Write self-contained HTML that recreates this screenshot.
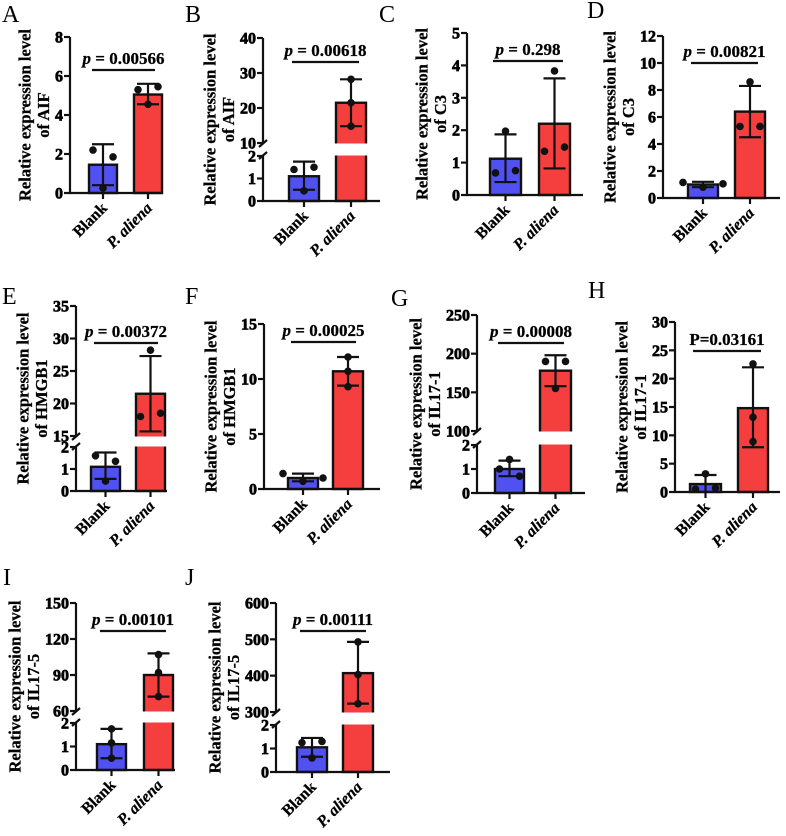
<!DOCTYPE html>
<html><head><meta charset="utf-8"><style>
html,body{margin:0;padding:0;background:#fff;}
svg{display:block;font-family:"Liberation Serif",serif;}
</style></head><body>
<svg id="fig" width="786" height="836" viewBox="0 0 786 836" xmlns="http://www.w3.org/2000/svg"></svg>
<script>
// ---- data ----
const groups = ['Blank', 'P. aliena'];
const meansA = [1.45, 5.05], lowA = [0.4, 4.55], highA = [2.5, 5.6], ptsBlankA = [2.2, 1.85, 0.25], ptsAlienaA = [5.3, 5.45, 4.55];
const meansB = [1.1, 21.5], lowB = [0.5, 14.8], highB = [1.75, 28.2], ptsBlankB = [1.4, 1.5, 0.45], ptsAlienaB = [28.2, 21.5, 14.8];
const meansC = [1.12, 2.2], lowC = [0.4, 0.82], highC = [1.87, 3.6], ptsBlankC = [1.97, 0.68, 0.75], ptsAlienaC = [3.83, 1.35, 1.48];
const meansD = [1.0, 6.4], lowD = [0.8, 4.5], highD = [1.2, 8.3], ptsBlankD = [1.15, 0.8, 1.05], ptsAlienaD = [8.6, 5.3, 5.3];
const meansE = [1.1, 21.5], lowE = [0.55, 15.7], highE = [1.75, 27.3], ptsBlankE = [1.6, 1.35, 0.45], ptsAlienaE = [28.2, 18, 18.5];
const meansF = [1.0, 10.7], lowF = [0.7, 9.4], highF = [1.4, 12], ptsBlankF = [1.4, 0.7, 1.0], ptsAlienaF = [12, 10.7, 9.3];
const meansG = [1.0, 178], lowG = [0.7, 158], highG = [1.35, 198], ptsBlankG = [1.4, 1.0, 0.7], ptsAlienaG = [190, 190, 155];
const meansH = [1.4, 14.8], lowH = [0, 7.9], highH = [3.0, 22], ptsBlankH = [3.2, 0.5, 0.7], ptsAlienaH = [22.6, 13.2, 8.9];
const meansI = [1.1, 90], lowI = [0.5, 72], highI = [1.75, 108], ptsBlankI = [1.75, 1.15, 0.5], ptsAlienaI = [107, 92, 72];
const meansJ = [1.05, 407], lowJ = [0.65, 323], highJ = [1.45, 493], ptsBlankJ = [1.25, 1.3, 0.6], ptsAlienaJ = [493, 403, 323];
const ticksA = [0, 2, 4, 6, 8];
const ticksBotB = [0, 1, 2], ticksTopB = [10, 20, 30, 40];
const ticksC = [0, 1, 2, 3, 4, 5];
const ticksD = [0, 2, 4, 6, 8, 10, 12];
const ticksBotE = [0, 1, 2], ticksTopE = [15, 20, 25, 30, 35];
const ticksF = [0, 5, 10, 15];
const ticksBotG = [0, 1, 2], ticksTopG = [100, 150, 200, 250];
const ticksH = [0, 5, 10, 15, 20, 25, 30];
const ticksBotI = [0, 1, 2], ticksTopI = [60, 90, 120, 150];
const ticksBotJ = [0, 1, 2], ticksTopJ = [300, 400, 500, 600];
const pValues = ['0.00566', '0.00618', '0.298', '0.00821', '0.00372', '0.00025', '0.00008', '0.03161', '0.00101', '0.00111'];
const genes = ['AIF', 'AIF', 'C3', 'C3', 'HMGB1', 'HMGB1', 'IL17-1', 'IL17-1', 'IL17-5', 'IL17-5'];

// ---- layout ----
const panels = [
 {L:'A',lx:2,ly:22,ax:70,axEnd:163,y0:193,b:[89,117],r:[134,162],lin:{max:8,yMax:37},ticks:ticksA,m:meansA,lo:lowA,hi:highA,pb:ptsBlankA,pa:ptsAlienaA,pl:70},
 {L:'B',lx:185,ly:22,ax:263,axEnd:380,y0:201,b:[289,319],r:[336,366],brk:{bMax:2,yB:156,tMin:10,yT:143,tMax:40,yTop:38},tb:ticksBotB,tt:ticksTopB,m:meansB,lo:lowB,hi:highB,pb:ptsBlankB,pa:ptsAlienaB,pl:62},
 {L:'C',lx:379,ly:22,ax:467,axEnd:583,y0:195,b:[490,521],r:[539,570],lin:{max:5,yMax:33},ticks:ticksC,m:meansC,lo:lowC,hi:highC,pb:ptsBlankC,pa:ptsAlienaC,pl:61},
 {L:'D',lx:587,ly:18,ax:663,axEnd:780,y0:198,b:[688,718],r:[735,765],lin:{max:12,yMax:36},ticks:ticksD,m:meansD,lo:lowD,hi:highD,pb:ptsBlankD,pa:ptsAlienaD,pl:63},
 {L:'E',lx:2,ly:304,ax:76,axEnd:167,y0:491,b:[91,120],r:[136,165],brk:{bMax:2,yB:447,tMin:15,yT:436,tMax:35,yTop:306},tb:ticksBotE,tt:ticksTopE,m:meansE,lo:lowE,hi:highE,pb:ptsBlankE,pa:ptsAlienaE,pl:343},
 {L:'F',lx:185,ly:304,ax:264,axEnd:380,y0:489,b:[288,318],r:[333,363],lin:{max:15,yMax:324},ticks:ticksF,m:meansF,lo:lowF,hi:highF,pb:ptsBlankF,pa:ptsAlienaF,pl:342},
 {L:'G',lx:391,ly:306,ax:477,axEnd:585,y0:493,b:[495,524],r:[540,571],brk:{bMax:2,yB:445,tMin:100,yT:431,tMax:250,yTop:315},tb:ticksBotG,tt:ticksTopG,m:meansG,lo:lowG,hi:highG,pb:ptsBlankG,pa:ptsAlienaG,pl:343},
 {L:'H',lx:588,ly:298,ax:675,axEnd:780,y0:492,b:[690,721],r:[738,768],lin:{max:30,yMax:322},ticks:ticksH,m:meansH,lo:lowH,hi:highH,pb:ptsBlankH,pa:ptsAlienaH,pl:351,plain:true},
 {L:'I',lx:3,ly:585,ax:76,axEnd:175,y0:770,b:[97,126],r:[144,173],brk:{bMax:2,yB:723,tMin:60,yT:711,tMax:150,yTop:603},tb:ticksBotI,tt:ticksTopI,m:meansI,lo:lowI,hi:highI,pb:ptsBlankI,pa:ptsAlienaI,pl:631},
 {L:'J',lx:185,ly:585,ax:276,axEnd:390,y0:772,b:[297,327],r:[343,373],brk:{bMax:2,yB:725,tMin:300,yT:712,tMax:600,yTop:603},tb:ticksBotJ,tt:ticksTopJ,m:meansJ,lo:lowJ,hi:highJ,pb:ptsBlankJ,pa:ptsAlienaJ,pl:631}
];
const NS = 'http://www.w3.org/2000/svg';
const svg = document.getElementById('fig');
function mk(tag, attrs, parent, txt) {
  const e = document.createElementNS(NS, tag);
  for (const k in attrs) e.setAttribute(k, attrs[k]);
  if (txt !== undefined) e.textContent = txt;
  parent.appendChild(e);
  return e;
}
const BLUE = '#5151f2', RED = '#f53f3f';

panels.forEach((p, i) => {
  const g = mk('g', {}, svg);
  
  
  const y = p.brk ? (v => {
      const k = p.brk;
      if (v <= k.bMax) return p.y0 + (k.yB - p.y0) * v / k.bMax;
      if (v >= k.tMin) return k.yT + (k.yTop - k.yT) * (v - k.tMin) / (k.tMax - k.tMin);
      return (k.yB + k.yT) / 2;
    }) : (v => p.y0 + (p.lin.yMax - p.y0) * v / p.lin.max);
  const topY = p.brk ? p.brk.yTop : p.lin.yMax;

  const lt = mk('text', {x:p.lx, y:p.ly, 'font-size':24}, g, p.L);
  
  

  const bars = [p.b, p.r], cols = [BLUE, RED];
  bars.forEach((bx, j) => {
    const yv = y(p.m[j]);
    const rc = mk('rect', {x:bx[0], y:yv, width:bx[1]-bx[0], height:p.y0-yv, fill:cols[j], stroke:'#111', 'stroke-width':2.4}, g);
    
    
    if (p.brk && p.m[j] > p.brk.bMax) {
      const gp = mk('rect', {x:bx[0]-2, y:p.brk.yT+0.5, width:bx[1]-bx[0]+4, height:p.brk.yB-p.brk.yT-1, fill:'#fff'}, g);
      
      
    }
  });
  bars.forEach((bx, j) => {
    const cx = (bx[0] + bx[1]) / 2;
    const eg = mk('g', {stroke:'#111', 'stroke-width':2.2}, g);
    
    
    mk('line', {x1:cx, x2:cx, y1:y(p.lo[j]), y2:y(p.hi[j])}, eg);
    mk('line', {x1:cx-11, x2:cx+11, y1:y(p.hi[j]), y2:y(p.hi[j])}, eg);
    if (p.lo[j] > 0) mk('line', {x1:cx-11, x2:cx+11, y1:y(p.lo[j]), y2:y(p.lo[j])}, eg);
    const pts = j ? p.pa : p.pb;
    const ys = pts.map(y);
    pts.forEach((v, k) => {
      let off = 0;
      const idx = ys.map((yy,q)=>q).filter(q => Math.abs(ys[q]-ys[k]) < 9);
      if (idx.length > 1) off = (idx.indexOf(k) - (idx.length-1)/2) * 20;
      const c = mk('circle', {cx:cx+off, cy:ys[k], r:3.8, fill:'#111'}, g);
      
      
    });
  });

  const ag = mk('g', {stroke:'#111', 'stroke-width':2.2, fill:'none'}, g);
  
  
  if (p.brk) {
    mk('line', {x1:p.ax, x2:p.ax, y1:p.y0+1, y2:p.brk.yB}, ag);
    mk('line', {x1:p.ax, x2:p.ax, y1:p.brk.yT, y2:topY}, ag);
    mk('line', {x1:p.ax-4, x2:p.ax+4, y1:p.brk.yB+3, y2:p.brk.yB-4}, ag);
    mk('line', {x1:p.ax-4, x2:p.ax+4, y1:p.brk.yT+4, y2:p.brk.yT-3}, ag);
  } else {
    mk('line', {x1:p.ax, x2:p.ax, y1:p.y0+1, y2:topY}, ag);
  }
  mk('line', {x1:p.ax-1, x2:p.axEnd, y1:p.y0, y2:p.y0}, ag);
  const allTicks = p.brk ? p.tb.concat(p.tt) : p.ticks;
  let maxW = 0;
  allTicks.forEach(t => {
    const ty = y(t);
    mk('line', {x1:p.ax-6, x2:p.ax, y1:ty, y2:ty}, ag);
    const tl = mk('text', {x:p.ax-7, y:ty+5.5, 'text-anchor':'end', 'font-size':16, 'font-weight':'bold', fill:'#000', stroke:'#000', 'stroke-width':0.7, 'paint-order':'stroke'}, g, String(t));
    
    
    maxW = Math.max(maxW, tl.getComputedTextLength());
  });
  bars.forEach((bx, j) => {
    const cx = (bx[0] + bx[1]) / 2;
    mk('line', {x1:cx, x2:cx, y1:p.y0, y2:p.y0+6}, ag);
    const xl = mk('text', {transform:`translate(${cx+5},${p.y0+16}) rotate(-45)`, 'text-anchor':'end', 'font-size':16, 'font-weight':'bold', 'font-style': j ? 'italic' : 'normal', stroke:'#111', 'stroke-width':0.3}, g, groups[j]);
    
    
  });

  const cy = (topY + p.y0) / 2;
  const b2 = p.ax - 7 - maxW - 6;
  const yt = mk('text', {transform:`translate(${b2},${cy}) rotate(-90)`, 'text-anchor':'middle', 'font-size':16.5, 'font-weight':'bold', stroke:'#111', 'stroke-width':0.3}, g);
  
  
  mk('tspan', {x:0, y:-18.5}, yt, 'Relative expression level');
  mk('tspan', {x:0, y:0}, yt, 'of ' + genes[i]);

  const x1 = p.b[0] + 3, x2 = p.r[1] - 7;
  const pline = mk('line', {x1:x1, x2:x2, y1:p.pl, y2:p.pl, stroke:'#111', 'stroke-width':2.2}, g);
  
  
  const pt = mk('text', {x:(x1+x2)/2, y:p.pl-6, 'text-anchor':'middle', 'font-size':17, 'font-weight':'bold', stroke:'#111', 'stroke-width':0.3}, g);
  
  
  if (p.plain) { mk('tspan', {}, pt, 'P=' + pValues[i]); }
  else { mk('tspan', {'font-style':'italic'}, pt, 'p'); mk('tspan', {}, pt, ' = ' + pValues[i]); }
});
</script>
</body></html>
